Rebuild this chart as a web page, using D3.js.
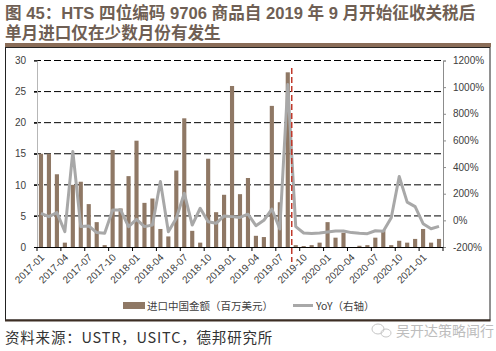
<!DOCTYPE html>
<html><head><meta charset="utf-8">
<script src="https://cdn.jsdelivr.net/npm/d3@7/dist/d3.min.js"></script>
<style>
html,body{margin:0;padding:0;background:#fff;}
svg{display:block;}
</style></head>
<body>
<svg id="c" width="496" height="351"></svg>
<script>
// ---- data ----
const startMonth = "2017-01";
const imports = [15.0,15.0,11.7,0.7,10.0,10.5,6.9,4.0,0.3,15.6,6.2,11.4,17.1,7.1,7.8,2.9,1.7,12.3,20.7,2.6,0.7,14.2,5.6,8.4,25.9,8.5,11.1,1.8,1.6,22.7,7.2,28.1,0.3,0.15,0.3,0.7,4.0,1.5,2.3,0,0.2,0.3,1.5,2.7,0.3,1.0,0.7,1.3,2.9,0.7,1.3];
const yoy = [53,28,58,-85,517,-47,-42,-92,-97,78,78,-47,8,-47,-35,291,-85,16,204,-35,91,-10,-22,33,28,22,46,-40,0,85,-65,1020,-47,-95,-98,-95,-88,-80,-80,-92,-97,-100,-78,-82,20,329,137,103,-25,-63,-45];
const tickLabels = ["2017-01","2017-04","2017-07","2017-10","2018-01","2018-04","2018-07","2018-10","2019-01","2019-04","2019-07","2019-10","2020-01","2020-04","2020-07","2020-10","2021-01"];
const leftTicks = [0,5,10,15,20,25,30];
const rightTicks = [-200,0,200,400,600,800,1000,1200];
const tariffStart = "2019-09";
const titleLines = ["图 45：HTS 四位编码 9706 商品自 2019 年 9 月开始征收关税后","单月进口仅在少数月份有发生"];
const legendNames = ["进口中国金额（百万美元）","YoY（右轴）"];
const sourceText = "资料来源：USTR，USITC，德邦研究所";
const watermark = "吴开达策略闻行";

// categories (monthly)
const fmt = d3.timeFormat("%Y-%m");
const parse = d3.timeParse("%Y-%m");
const months = d3.range(imports.length).map(i => fmt(d3.timeMonth.offset(parse(startMonth), i)));

// ---- layout ----
const svg = d3.select("#c");
const L = 37, R = 443, T = 60.5, B = 247;
const x = d3.scaleBand().domain(months).range([L, R]).paddingInner(0.48).paddingOuter(0.24);
const bx = m => L + months.indexOf(m) * (R - L) / months.length;
const y = d3.scaleLinear().domain([0, 30]).range([B, T]);
const y2 = d3.scaleLinear().domain([-200, 1200]).range([B, T]);

const cjk = "'Noto Sans CJK SC', 'Noto Sans', sans-serif";
const mixed = "'Liberation Sans', 'Noto Sans CJK SC', sans-serif";
const num = "'Liberation Sans', Arial, sans-serif";

// title
svg.selectAll("text.title").data(titleLines).enter().append("text").attr("class", "title")
  .attr("x", 5).attr("y", (d, i) => 19 + i * 20)
  .attr("font-family", mixed).attr("font-weight", "bold").attr("font-size", 16.6)
  .attr("fill", "#6f5f54").text(d => d);

// brown rule & box
svg.append("rect").attr("x", 5).attr("y", 43).attr("width", 486).attr("height", 4).attr("fill", "#8a6d58");
svg.append("rect").attr("x", 5.5).attr("y", 47.5).attr("width", 484.5).attr("height", 272.5)
  .attr("fill", "none").attr("stroke", "#222").attr("stroke-width", 1);
svg.append("line").attr("x1", 5).attr("x2", 490.5).attr("y1", 320.5).attr("y2", 320.5)
  .attr("stroke", "#3d2e24").attr("stroke-width", 2);

// gridlines
const g = svg.append("g");
g.selectAll("line.grid").data(leftTicks.filter(d => d > 0)).enter().append("line")
  .attr("x1", L - 3).attr("x2", R).attr("y1", d => y(d)).attr("y2", d => y(d))
  .attr("stroke", "#000").attr("stroke-width", 1).attr("stroke-dasharray", "7,3");

// bars
g.selectAll("rect.bar").data(imports).enter().append("rect")
  .attr("x", (d, i) => x(months[i])).attr("width", x.bandwidth())
  .attr("y", d => y(d)).attr("height", d => B - y(d))
  .attr("fill", "#8f7865");

// left axis
const la = svg.append("g").attr("transform", `translate(${L},0)`)
  .call(d3.axisLeft(y).tickValues(leftTicks).tickSize(3).tickFormat(d3.format("d")));
la.select(".domain").attr("stroke", "#b7b7b7");
la.selectAll(".tick line").attr("stroke", "#000");
la.selectAll("text").attr("font-family", num).attr("font-size", 10).attr("fill", "#404040").attr("dx", -5);

// right axis
const ra = svg.append("g").attr("transform", `translate(${R},0)`)
  .call(d3.axisRight(y2).tickValues(rightTicks).tickSize(3).tickFormat(d => d + "%"));
ra.select(".domain").attr("stroke", "#8c8c8c");
ra.selectAll(".tick line").attr("stroke", "#8c8c8c");
ra.selectAll("text").attr("font-family", num).attr("font-size", 10).attr("fill", "#404040").attr("dx", 4);

// x axis
const tickPos = d3.range(0, months.length + 1, 3);
const xa = svg.append("g");
xa.append("line").attr("x1", L).attr("x2", R).attr("y1", B + 0.5).attr("y2", B + 0.5).attr("stroke", "#000");
xa.selectAll("line.t").data(tickPos).enter().append("line")
  .attr("x1", i => L + i * (R - L) / months.length).attr("x2", i => L + i * (R - L) / months.length)
  .attr("y1", B).attr("y2", B + 4).attr("stroke", "#000");
xa.selectAll("text").data(tickLabels).enter().append("text")
  .attr("transform", d => `translate(${bx(d) + 3},${B + 6}) rotate(-45)`)
  .attr("text-anchor", "end").attr("dy", "0.71em")
  .attr("font-family", num).attr("font-size", 10).attr("fill", "#404040").text(d => d);

// YoY line
const line = d3.line().x((d, i) => x(months[i]) + x.bandwidth() / 2).y(d => y2(d));
svg.append("path").datum(yoy).attr("d", line).attr("fill", "none")
  .attr("stroke", "#a8a8a8").attr("stroke-width", 3).attr("stroke-linejoin", "round");

// tariff marker
svg.append("line").attr("x1", bx(tariffStart)).attr("x2", bx(tariffStart))
  .attr("y1", 68).attr("y2", 262).attr("stroke", "#c0392b").attr("stroke-width", 1.5)
  .attr("stroke-dasharray", "6,3");

// legend
svg.append("rect").attr("x", 123).attr("y", 302).attr("width", 22).attr("height", 7).attr("fill", "#8f7865");
svg.append("text").attr("x", 147).attr("y", 309.5).attr("font-family", cjk).attr("font-size", 10.5)
  .attr("fill", "#404040").text(legendNames[0]);
svg.append("line").attr("x1", 293).attr("x2", 313).attr("y1", 305.5).attr("y2", 305.5)
  .attr("stroke", "#a8a8a8").attr("stroke-width", 3);
svg.append("text").attr("x", 316).attr("y", 309.5).attr("font-family", cjk).attr("font-size", 10.5)
  .attr("fill", "#404040").text(legendNames[1]);

// source
svg.append("text").attr("x", 5).attr("y", 343).attr("font-family", cjk).attr("font-size", 14.5)
  .attr("letter-spacing", 0.8).attr("fill", "#333").text(sourceText);

// watermark
const wm = svg.append("g").attr("opacity", 0.55);
wm.append("ellipse").attr("cx", 378).attr("cy", 329).attr("rx", 6).attr("ry", 5).attr("fill", "none").attr("stroke", "#999");
wm.append("ellipse").attr("cx", 386).attr("cy", 333).attr("rx", 5).attr("ry", 4).attr("fill", "none").attr("stroke", "#999");
wm.append("text").attr("x", 396).attr("y", 336).attr("font-family", cjk).attr("font-size", 14)
  .attr("fill", "#888").text(watermark);
</script>
</body></html>
